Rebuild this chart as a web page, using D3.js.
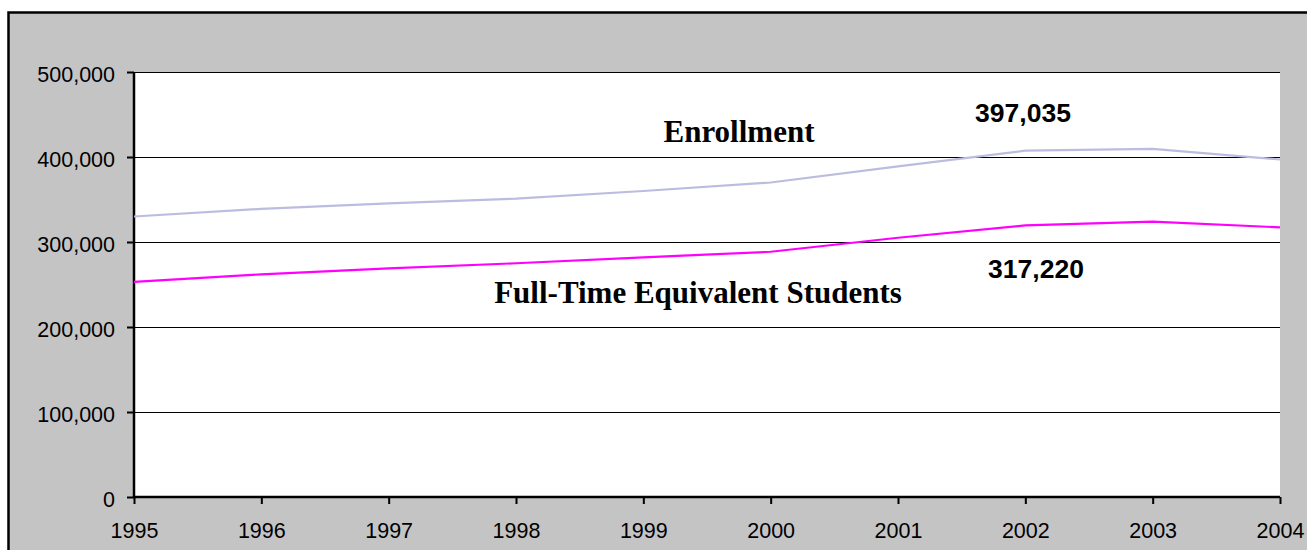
<!DOCTYPE html>
<html><head><meta charset="utf-8">
<script src="https://cdn.jsdelivr.net/npm/d3@7"></script>
<style>html,body{margin:0;padding:0;background:#fff;overflow:hidden}</style>
</head><body>
<svg id="chart" width="1307" height="550"></svg>
<script>
const years = [1995,1996,1997,1998,1999,2000,2001,2002,2003,2004];
const enrollment = [330000,339000,345500,351000,360000,370000,389000,407500,409500,397035];
const fte = [253000,262000,269000,275000,282000,288500,305000,319500,324000,317220];
const yTicks = [0,100000,200000,300000,400000,500000];
const seriesLabels = ["Enrollment","Full-Time Equivalent Students"];
const valueLabels = ["397,035","317,220"];

const svg = d3.select("#chart");
const W = 1307, H = 550;
// outer frame
svg.append("rect").attr("x",8.5).attr("y",12.5).attr("width",W).attr("height",H)
  .attr("fill","#c4c4c4").attr("stroke","#000").attr("stroke-width",2.5);

const m = {left:134, top:72, right:1280, bottom:497};
const x = d3.scaleLinear().domain([1995,2004]).range([m.left,m.right]);
const y = d3.scaleLinear().domain([0,500000]).range([m.bottom,m.top]);

svg.append("rect").attr("x",m.left).attr("y",m.top).attr("width",m.right-m.left).attr("height",m.bottom-m.top).attr("fill","#fff");

// gridlines
svg.append("g").selectAll("line").data(yTicks.filter(d=>d>0)).join("line")
  .attr("x1",m.left).attr("x2",m.right).attr("y1",d=>Math.round(y(d))+0.5).attr("y2",d=>Math.round(y(d))+0.5)
  .attr("stroke","#000").attr("stroke-width",1);

const fmt = d3.format(",");
const yAxis = svg.append("g").attr("transform",`translate(${m.left},0)`)
  .call(d3.axisLeft(y).tickValues(yTicks).tickFormat(fmt).tickSize(7).tickPadding(12));
yAxis.select(".domain").remove();
yAxis.selectAll(".tick line").attr("stroke","#000").attr("stroke-width",2);
yAxis.selectAll("text").attr("font-family","Arial, 'Liberation Sans', sans-serif").attr("font-size",21.5).attr("fill","#000").attr("dy","0.42em");

const xAxis = svg.append("g").attr("transform",`translate(0,${m.bottom})`)
  .call(d3.axisBottom(x).tickValues(years).tickFormat(d3.format("d")).tickSize(7).tickPadding(19));
xAxis.select(".domain").remove();
xAxis.selectAll(".tick line").attr("stroke","#000").attr("stroke-width",2);
xAxis.selectAll("text").attr("font-family","Arial, 'Liberation Sans', sans-serif").attr("font-size",21.5).attr("fill","#000");

// axis lines
svg.append("line").attr("x1",m.left).attr("x2",m.left).attr("y1",m.top).attr("y2",m.bottom+1).attr("stroke","#000").attr("stroke-width",2.5);
svg.append("line").attr("x1",m.left).attr("x2",m.right).attr("y1",m.bottom).attr("y2",m.bottom).attr("stroke","#000").attr("stroke-width",2.5);

const line = d3.line().x((d,i)=>x(years[i])).y(d=>y(d));
svg.append("path").datum(enrollment).attr("d",line).attr("fill","none").attr("stroke","#bcbce0").attr("stroke-width",2.2);
svg.append("path").datum(fte).attr("d",line).attr("fill","none").attr("stroke","#ff00ff").attr("stroke-width",2.2);

const serif = "'Times New Roman','Liberation Serif',serif";
svg.append("text").attr("x",739).attr("y",142).attr("text-anchor","middle").attr("font-family",serif).attr("font-weight","bold").attr("font-size",31).text(seriesLabels[0]);
svg.append("text").attr("x",698).attr("y",303).attr("text-anchor","middle").attr("font-family",serif).attr("font-weight","bold").attr("font-size",31).text(seriesLabels[1]);

const sans = "Arial,'Liberation Sans',sans-serif";
svg.append("text").attr("x",1023).attr("y",122).attr("text-anchor","middle").attr("font-family",sans).attr("font-weight","bold").attr("font-size",26.5).text(valueLabels[0]);
svg.append("text").attr("x",1036).attr("y",278).attr("text-anchor","middle").attr("font-family",sans).attr("font-weight","bold").attr("font-size",26.5).text(valueLabels[1]);
</script>
</body></html>
